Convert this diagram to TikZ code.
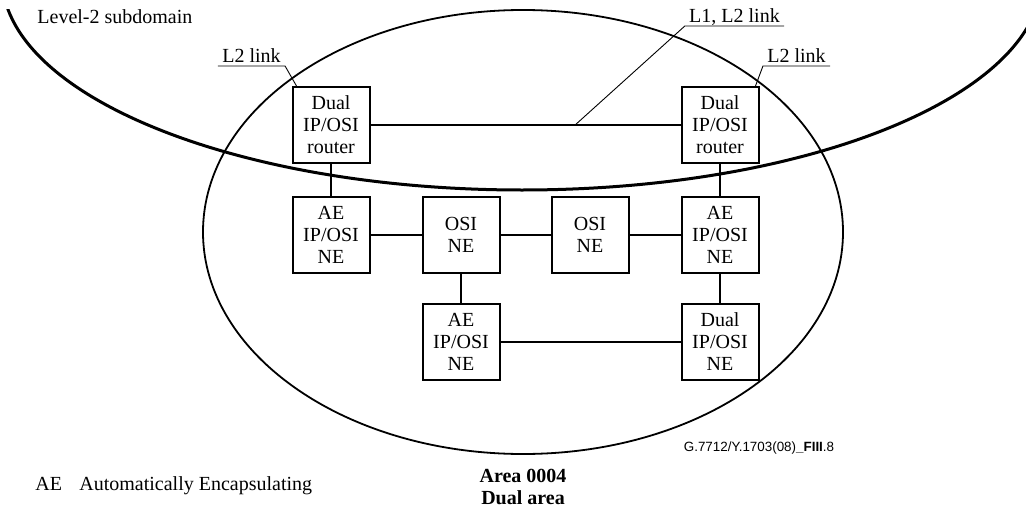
\documentclass[tikz,border=0pt]{standalone}
\usepackage{fontspec}
\setmainfont{Liberation Serif}
\newfontfamily\idfont{Liberation Sans}
\usepackage{tikz}
\usetikzlibrary{positioning,calc}

\begin{document}
\begin{tikzpicture}[
 x=0.5pt, y=-0.5pt,
 node distance=16pt and 25.5pt,
 box/.style={rectangle, draw, line width=1pt, fill=white, minimum width=38.5pt, minimum height=38pt, inner sep=1pt, align=center, font=\fontsize{10}{11}\selectfont},
 link/.style={line width=1.4pt},
 leader/.style={line width=0.45pt},
 tag/.style={inner xsep=2pt, inner ysep=1.5pt, text depth=0pt, font=\fontsize{10}{12}\selectfont},
 area/.style={line width=0.9pt},
 subdomain/.style={line width=1.5pt}
]
\useasboundingbox (0,0) rectangle (1026,508);

% Level-2 subdomain and area
\begin{scope}
 \clip (0,10) rectangle (1026,508);
 \draw[subdomain] (522,-23) ellipse [x radius=520, y radius=213];
\end{scope}
\draw[area] (523,232) ellipse [x radius=320, y radius=222];

% Routers and NEs
\node[box] (rtrL) at (331,125) {Dual\\IP/OSI\\router};
\node[box, below=of rtrL] (aeL) {AE\\IP/OSI\\NE};
\node[box, right=of aeL] (osiA) {OSI\\NE};
\node[box, right=25pt of osiA] (osiB) {OSI\\NE};
\node[box, right=of osiB] (aeR) {AE\\IP/OSI\\NE};
\node[box, above=of aeR] (rtrR) {Dual\\IP/OSI\\router};
\node[box, below=14.5pt of osiA] (aeB) {AE\\IP/OSI\\NE};
\node[box, below=14.5pt of aeR] (dualNE) {Dual\\IP/OSI\\NE};

% Links
\draw[link] (rtrL) -- (rtrR);
\draw[link] (rtrL) -- (aeL);
\draw[link] (aeL) -- (osiA);
\draw[link] (osiA) -- (osiB);
\draw[link] (osiB) -- (aeR);
\draw[link] (aeR) -- (rtrR);
\draw[link] (osiA) -- (aeB);
\draw[link] (aeR) -- (dualNE);
\draw[link] (aeB) -- (dualNE);

% Link labels
\node[tag, anchor=south] (lblL) at (251.5,66) {L2 link};
\draw[leader] (lblL.south west) -- (lblL.south east) -- ($(rtrL.north west)+(5,0)$);
\node[tag, anchor=south] (lblMid) at (734.5,26) {L1, L2 link};
\draw[leader] (lblMid.south east) -- (lblMid.south west) -- ($(rtrL.east)!0.66!(rtrR.west)$);
\node[tag, anchor=south] (lblR) at (796.5,66) {L2 link};
\draw[leader] (lblR.south east) -- (lblR.south west) -- ($(rtrR.north east)+(-4,0)$);

% Other texts
\node[anchor=base west, inner sep=0pt] (subLbl) at (37,24) {Level-2 subdomain};
\node[anchor=north, inner sep=0pt, align=center, font=\bfseries\fontsize{10}{11}\selectfont] (areaLbl) at (523,469) {Area 0004\\Dual area};
\node[anchor=base west, inner sep=0pt] (aeNote) at (35,490) {\makebox[22pt][l]{AE}Automatically Encapsulating};
\node[inner sep=0pt, font=\idfont\fontsize{6.7}{8}\selectfont] (figId) at (759,448) {G.7712/Y.1703(08)\textbf{\_FIII}.8};

\end{tikzpicture}
\end{document}
